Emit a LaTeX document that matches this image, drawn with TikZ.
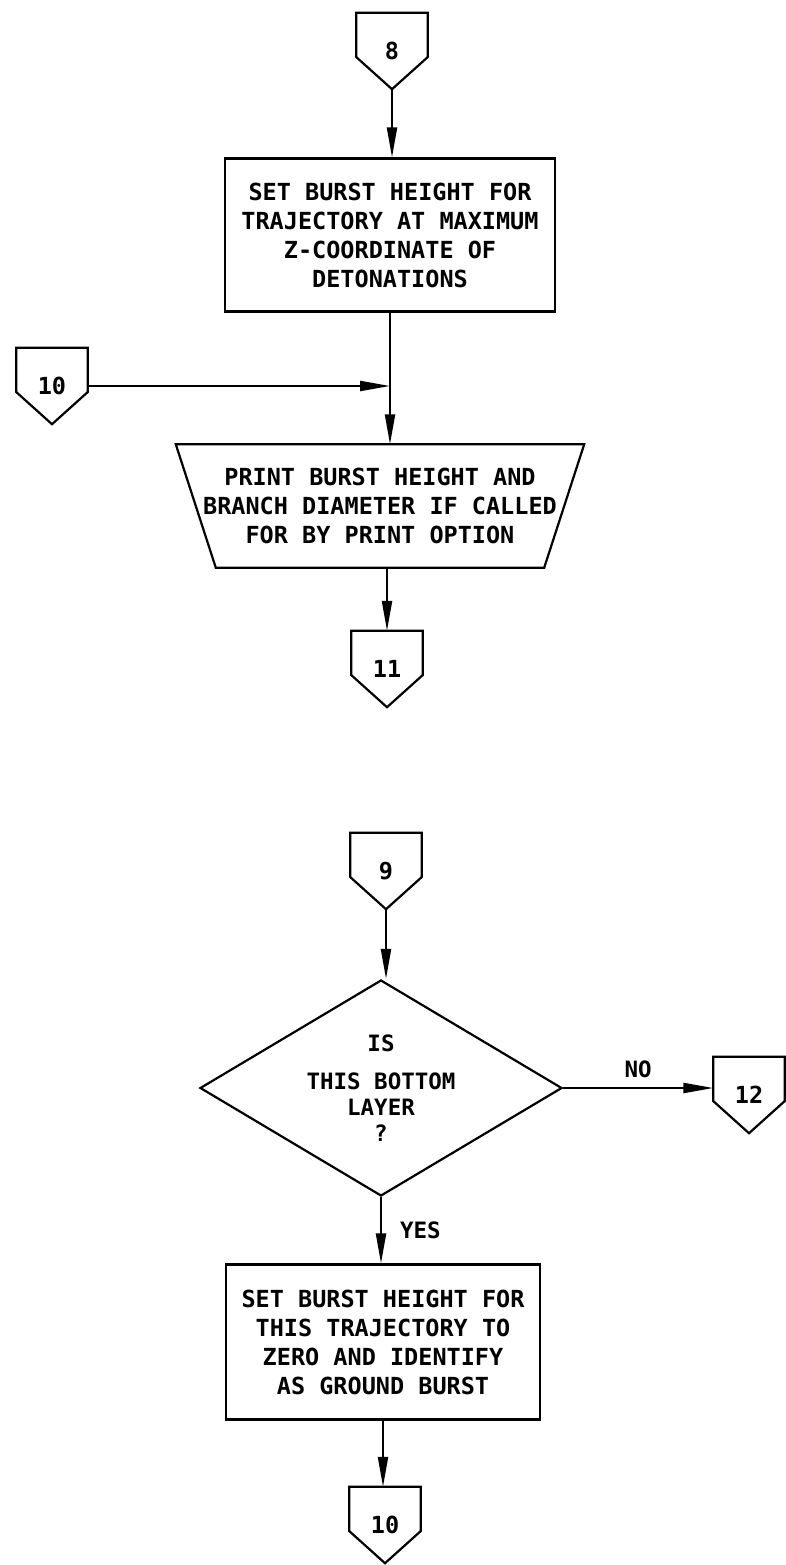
\documentclass[tikz,border=0pt]{standalone}
\usepackage{fontspec}
\setmonofont{DejaVu Sans Mono}
\usetikzlibrary{shapes.geometric,arrows.meta,positioning,calc}
\tikzset{
  chartfont/.style={font=\ttfamily\bfseries\fontsize{23.5}{29}\selectfont},
  smallfont/.style={font=\ttfamily\bfseries\fontsize{22.5}{26}\selectfont},
  procbox/.style={draw, line width=2.2pt, chartfont, align=center, inner sep=0pt},
  offpage/.style={chartfont, minimum width=71pt, minimum height=76pt, inner sep=0pt,
    append after command={\pgfextra{\draw[line width=2.2pt, line join=miter]
      (\tikzlastnode.north west) -- (\tikzlastnode.north east)
      -- ($(\tikzlastnode.north east)!0.58!(\tikzlastnode.south east)$)
      -- (\tikzlastnode.south)
      -- ($(\tikzlastnode.north west)!0.58!(\tikzlastnode.south west)$) -- cycle;}}},
  iobox/.style={chartfont, align=center, minimum width=408pt, minimum height=123pt, inner sep=0pt,
    append after command={\pgfextra{\draw[line width=2.2pt, line join=miter]
      (\tikzlastnode.north west) -- (\tikzlastnode.north east)
      -- ($(\tikzlastnode.south east)+(-40,0)$)
      -- ($(\tikzlastnode.south west)+(40,0)$) -- cycle;}}},
  decision/.style={diamond, draw, line width=2.2pt, smallfont, align=center, aspect=1.676,
    minimum width=362pt, minimum height=216pt, inner sep=0pt},
  flowline/.style={line width=2.2pt, -{Triangle[length=30pt,width=10pt]}}
}
\begin{document}
\begin{tikzpicture}[x=1pt, y=-1pt]
\useasboundingbox (0,0) rectangle (785,1565);
% upper chart
\node[offpage] (c8) at (392,51) {8};
\node[procbox, minimum width=330pt, minimum height=153pt] (burst1) at (390,235)
  {SET BURST HEIGHT FOR\\TRAJECTORY AT MAXIMUM\\Z-COORDINATE OF\\DETONATIONS};
\node[offpage] (c10in) at (52,386) {10};
\node[iobox] (print) at (380,506)
  {PRINT BURST HEIGHT AND\\BRANCH DIAMETER IF CALLED\\FOR BY PRINT OPTION};
\node[offpage] (c11) at (387,669) {11};
\coordinate (merge) at (burst1.south |- c10in.east);

\draw[flowline] (c8.south) -- (c8.south |- burst1.north);
\draw[flowline] (burst1.south) -- (burst1.south |- print.north);
\draw[flowline] (c10in.east) -- (merge);
\draw[flowline] (print.south -| c11.north) -- (c11.north);

% lower chart
\node[offpage] (c9) at (386,871) {9};
\node[decision] (layer) at (381,1088) {IS\\[12pt]THIS BOTTOM\\LAYER\\?};
\node[offpage] (c12) at (749,1095) {12};
\node[procbox, minimum width=314pt, minimum height=155pt] (burst2) at (383,1342)
  {SET BURST HEIGHT FOR\\THIS TRAJECTORY TO\\ZERO AND IDENTIFY\\AS GROUND BURST};
\node[offpage] (c10out) at (385,1525) {10};

\draw[flowline] (c9.south) -- (c9.south |- layer.north);
\draw[flowline] (layer.east) -- (layer.east -| c12.west)
  node[midway, above=9pt, smallfont, inner sep=0pt] {NO};
\draw[flowline] (layer.south) -- (layer.south |- burst2.north)
  node[midway, right=18pt, smallfont, inner sep=0pt] {YES};
\draw[flowline] (burst2.south) -- (burst2.south |- c10out.north);
\end{tikzpicture}
\end{document}
